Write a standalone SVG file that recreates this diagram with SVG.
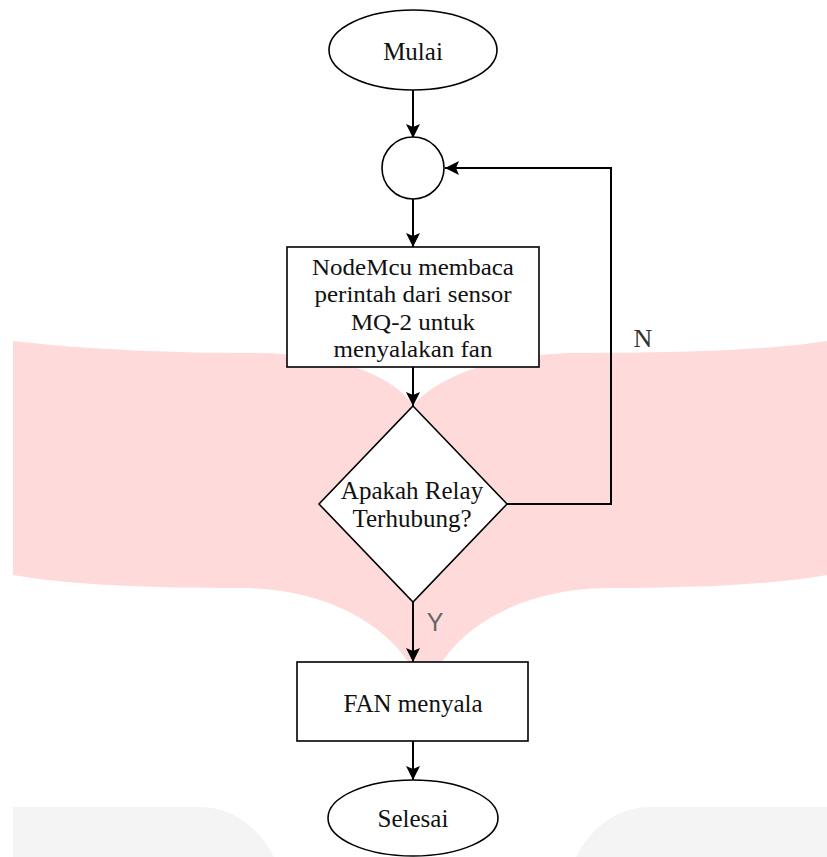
<svg xmlns="http://www.w3.org/2000/svg" width="827" height="857" viewBox="0 0 827 857">
<style>
.bgp{fill:#FFDADB;stroke:none}
.bgg{fill:#F4F4F4;stroke:none}
.sh{fill:#ffffff;stroke:#000000;stroke-width:1.6}
.ln{fill:none;stroke:#000000;stroke-width:2}
.t{font-family:"Liberation Serif","Times New Roman",serif;font-size:25px;fill:#111111;text-anchor:middle}
.lblN{font-family:"Liberation Serif","Times New Roman",serif;font-size:26px;fill:#333333;text-anchor:middle}
.lblY{font-family:"Liberation Sans",Arial,sans-serif;font-size:25px;fill:#666666;text-anchor:middle}
</style>
<defs>
<marker id="arr" markerUnits="userSpaceOnUse" markerWidth="16" markerHeight="16" viewBox="0 0 16 16" refX="15" refY="8" orient="auto">
<path d="M1,1 L15,8 L1,15 L4,8 Z" fill="#000000"/>
</marker>
</defs>
<g id="background">
<path class="bgp" d="M13,341 C90,350 180,353 250,353 C330,353 390,372 413,405 C440,375 500,353 580,353 C680,353 770,350 827,341 L827,575 C770,585 690,588 610,588 C530,588 470,620 442,662 L408,662 C380,620 320,588 240,588 C150,588 70,585 13,575 Z"/>
<path class="bgg" d="M13,807 L200,807 C235,807 260,830 274,857 L13,857 Z"/>
<path class="bgg" d="M827,807 L650,807 C615,807 590,830 576,857 L827,857 Z"/>
</g>
<g id="connectors">
<line class="ln" x1="413" y1="90" x2="413" y2="138" marker-end="url(#arr)"/>
<line class="ln" x1="413" y1="199" x2="413" y2="247" marker-end="url(#arr)"/>
<line class="ln" x1="413" y1="367" x2="413" y2="406" marker-end="url(#arr)"/>
<polyline class="ln" points="507,504 611,504 611,168 445,168" marker-end="url(#arr)"/>
<line class="ln" x1="413" y1="602" x2="413" y2="662" marker-end="url(#arr)"/>
<line class="ln" x1="413" y1="741" x2="413" y2="780" marker-end="url(#arr)"/>
<text class="lblN" x="643" y="347">N</text>
<text class="lblY" x="435" y="631">Y</text>
</g>
<g id="mulai">
<ellipse class="sh" cx="413" cy="50" rx="84" ry="40"/>
<text class="t" x="413" y="60">Mulai</text>
</g>
<g id="konektor">
<circle class="sh" cx="413" cy="168" r="31"/>
</g>
<g id="baca">
<rect class="sh" x="287" y="247" width="252" height="120" stroke-width="2"/>
<g transform="translate(413,0) scale(1,0.9)">
<text class="t" x="0" y="305.5">NodeMcu membaca</text>
<text class="t" x="0" y="336">perintah dari sensor</text>
<text class="t" x="0" y="366.5">MQ-2 untuk</text>
<text class="t" x="0" y="396.7">menyalakan fan</text>
</g>
</g>
<g id="keputusan">
<polygon class="sh" points="413,406 507,504 413,602 319,504"/>
<text class="t" x="412" y="499">Apakah Relay</text>
<text class="t" x="412" y="527">Terhubung?</text>
</g>
<g id="fan">
<rect class="sh" x="297" y="662" width="231" height="79" stroke-width="2"/>
<text class="t" x="413" y="712">FAN menyala</text>
</g>
<g id="selesai">
<ellipse class="sh" cx="413" cy="818" rx="85" ry="38"/>
<text class="t" x="413" y="827">Selesai</text>
</g>
</svg>
